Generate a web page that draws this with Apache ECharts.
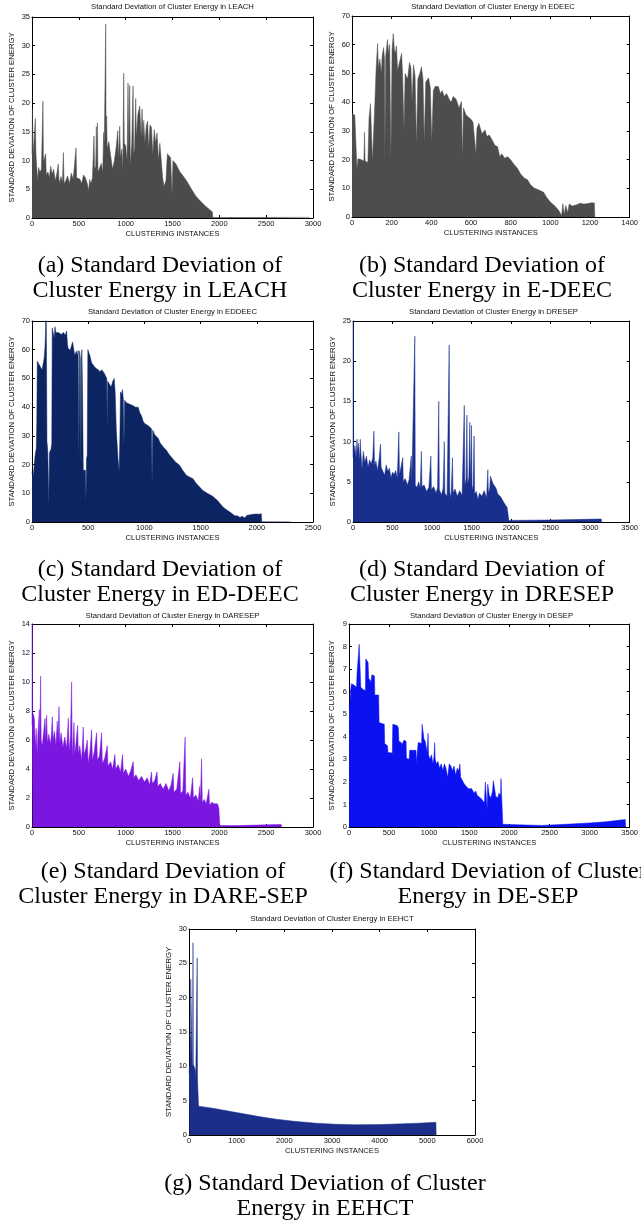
<!DOCTYPE html>
<html>
<head>
<meta charset="utf-8">
<script src="https://cdn.jsdelivr.net/npm/echarts@6/dist/echarts.min.js"></script>
<style>
html, body { margin: 0; padding: 0; background: #fff; }
#chart { width: 641px; height: 1221px; }
</style>
</head>
<body>
<div id="chart"></div>
<script>
// [clustering instance, std deviation]
var leach = [[0,11],[5,19],[12,11],[30,11.2],[36,17.3],[42,11.2],[50,9],[60,6.5],[70,8.8],[85,8],[100,8.5],[112,8.2],[117,20.3],[122,9.8],[140,9.6],[146,11.2],[152,7.5],[170,8],[185,7],[200,9],[215,7.6],[230,8.5],[250,6.5],[265,7.7],[280,9.4],[290,6],[310,7.2],[325,6.2],[335,11.4],[342,6],[360,6.5],[380,7.3],[400,6],[420,7.8],[440,6.8],[460,6.6],[470,12.2],[476,7],[490,7.2],[510,6.8],[530,6],[550,7.5],[570,7],[590,6],[605,4.8],[615,6.7],[630,6],[645,7],[662,14.3],[668,8.5],[680,9],[687,15.9],[693,9],[698,16.6],[704,8],[720,8.3],[740,9.5],[755,8],[765,14.9],[772,13],[787,33.8],[791,13.5],[797,17.8],[803,12],[820,13.3],[840,10.8],[860,8.5],[880,10],[900,12.5],[915,15.2],[925,10],[936,16],[945,10.5],[960,12],[970,8],[979,25.2],[985,13],[1000,12.6],[1015,10],[1025,23.5],[1033,12],[1043,23.1],[1050,9],[1065,13],[1079,23],[1085,11],[1095,12],[1107,20.8],[1115,14],[1130,18],[1150,19.5],[1165,14],[1175,19],[1185,14],[1193,17],[1205,13],[1220,16],[1235,16.9],[1245,12],[1260,16.2],[1275,15.8],[1290,11],[1305,15.4],[1320,13],[1335,14.8],[1350,10],[1365,13],[1380,12.8],[1395,7],[1410,5.5],[1430,6.5],[1445,11.2],[1465,11],[1480,10.5],[1495,4],[1505,10],[1520,10.2],[1540,9.3],[1560,8.6],[1580,8],[1600,7.6],[1650,6.5],[1700,5.1],[1750,3.8],[1800,2.9],[1850,2.1],[1900,1.4],[1925,1.1],[1930,0.1],[2000,0.08],[2500,0.1],[2960,0.12],[2965,0]];

var edeec = [[0,36],[8,36],[14,35.5],[20,35.8],[25,16.4],[30,20.3],[45,20],[60,19.5],[63,29.5],[66,19.5],[80,19],[86,34.4],[90,34.5],[93,39.5],[100,39],[103,19.5],[110,20],[114,37.3],[118,37],[121,50.6],[126,50],[129,60.4],[133,52],[140,55],[148,50],[152,56],[159,59],[164,55],[166,20],[170,56],[179,61.8],[184,57],[190,60],[196,19.5],[202,58],[208,63.9],[214,58],[218,57],[224,59.6],[230,51],[240,50.5],[250,57],[255,50],[262,30],[268,50],[280,48],[290,53.8],[297,52],[303,40],[310,53],[318,49],[325,25],[332,48],[342,50],[350,52.3],[358,48],[364,26],[372,47],[386,48.5],[395,45],[402,26],[410,44],[420,45.5],[436,45.4],[445,43],[455,44],[465,42],[477,43],[490,41],[500,40],[510,42],[525,41],[540,38],[552,40.2],[557,20],[562,38],[575,35.5],[585,35.5],[600,34],[610,33],[618,33.2],[625,22],[630,31],[640,32.6],[655,29],[671,30.3],[680,28],[692,28.6],[705,27],[720,25],[734,24.5],[745,21],[755,22],[770,20.5],[785,21],[800,19.9],[815,18.5],[834,17],[850,15],[870,13.5],[885,13],[900,11.2],[920,10],[940,9.5],[966,8.6],[980,7],[1000,5.2],[1020,4],[1040,2.5],[1057,0.5],[1063,4.6],[1070,1],[1078,4],[1088,1.5],[1095,4.5],[1110,3.8],[1130,4.2],[1150,4.8],[1170,4.5],[1190,4.7],[1210,5],[1222,4.9],[1224,0]];

var eddeec = [[0,17.4],[8,15.5],[15,17.5],[22,21],[30,24],[38,25.5],[42,33],[47,56],[60,55.5],[75,54],[90,53],[100,52.5],[108,57],[115,60.4],[120,65.6],[124,75],[128,66],[133,28],[140,25],[150,6],[155,24],[170,25.5],[176,27.3],[180,67.6],[190,67.9],[198,64],[204,68],[212,66],[225,65.5],[240,65.9],[260,65.3],[280,66],[295,65],[308,66.5],[315,62],[322,60.4],[340,59.8],[355,59.2],[361,62.7],[368,61],[380,58],[395,59.5],[405,58],[411,59.8],[417,22],[423,59.5],[430,57],[435,20],[440,58],[444,60],[450,45],[456,18],[465,17.5],[475,18],[480,6.6],[485,22],[491,23.2],[497,60],[505,59],[515,58],[530,55.5],[545,55],[553,54.2],[570,53.5],[590,53],[604,52.3],[620,53],[640,52],[657,52.6],[665,50],[669,32],[673,49],[690,48.5],[705,47],[718,49],[731,50],[740,45],[750,32],[765,22],[775,17.4],[782,30],[787,45.3],[795,44.5],[805,46.1],[812,43],[818,26],[824,42.4],[840,41.5],[855,41],[870,41],[885,40.5],[900,40.5],[920,40],[944,40],[960,38],[974,37],[990,35],[1005,34.2],[1018,33.9],[1035,33.5],[1050,33],[1063,32.5],[1068,13],[1074,32],[1090,30.5],[1107,30.8],[1125,29],[1140,27.5],[1151,27],[1170,26],[1196,25],[1220,23.5],[1240,22.6],[1270,21.2],[1290,20.5],[1314,19.7],[1340,18],[1373,16.3],[1400,15.7],[1432,15.1],[1460,13.5],[1491,12.2],[1520,11],[1560,10],[1610,8.9],[1650,7.5],[1699,5.2],[1740,4],[1770,3.2],[1803,2.2],[1830,2.1],[1850,1.6],[1870,2],[1892,1.4],[1910,2.3],[1940,2.5],[1966,2.7],[2000,2.8],[2020,2.7],[2040,2.9],[2044,0.05],[2300,0.05],[2302,0]];

var dresep = [[0,8],[3,25],[6,11.8],[10,8.5],[25,9.5],[40,8],[50,10.3],[58,8.7],[70,9.8],[85,7.5],[92,10.3],[100,8.6],[115,6.5],[130,8.8],[150,7.4],[170,8.2],[190,6.8],[210,7.7],[230,7.2],[250,8],[265,11.3],[272,7],[290,7.6],[310,6.4],[330,7.8],[348,9.7],[356,6.8],[380,7],[400,5.8],[420,7.1],[440,6.3],[460,6.7],[480,5.5],[500,6.2],[520,5.9],[540,6.4],[560,5.4],[580,11.2],[588,5.8],[610,5.6],[629,8],[636,5],[660,5.4],[690,4.6],[710,5.3],[737,8.2],[744,4.8],[765,5],[782,23.1],[788,4.6],[810,4.3],[830,5],[850,4.2],[865,8.8],[872,4.4],[900,4.6],[930,3.8],[960,4.3],[985,8.2],[992,4],[1020,4.4],[1050,3.6],[1070,4.3],[1085,15],[1092,4],[1120,3.4],[1140,4.2],[1155,10],[1162,3.6],[1190,3.2],[1217,22],[1224,3.8],[1240,3],[1258,8],[1265,3.6],[1290,4.1],[1320,3.2],[1350,3.9],[1380,3.3],[1408,14.5],[1415,4.5],[1430,5.4],[1441,13.3],[1448,4.8],[1465,5.5],[1478,12.4],[1485,4.5],[1499,12],[1506,4],[1520,4.6],[1532,10.7],[1539,3.5],[1560,3.8],[1580,2.8],[1600,3.6],[1630,3.2],[1660,3.9],[1690,3],[1706,6.5],[1713,3.6],[1730,4.2],[1739,5.7],[1750,5.5],[1770,4.8],[1790,4.6],[1810,4.2],[1830,3.5],[1850,3.7],[1870,3.1],[1890,3],[1910,2.4],[1930,2.2],[1950,1.8],[1965,1.6],[1972,0.2],[2200,0.22],[2500,0.25],[2800,0.3],[3100,0.36],[3140,0.37],[3145,0]];

var daresep = [[0,7],[3,14],[7,7.2],[15,7.8],[25,7.5],[35,5.5],[45,6.8],[55,5],[65,6.6],[78,8.1],[84,5.8],[92,10.4],[98,6],[110,5.6],[125,6.6],[139,7.5],[148,6],[156,7.7],[165,5.8],[180,6.4],[195,5.7],[205,6.2],[217,7.6],[225,6],[240,6.6],[255,5.6],[270,7.3],[280,6.2],[288,8.3],[296,5.8],[310,6.5],[330,5.5],[350,6.2],[370,5.4],[388,7.5],[396,5.2],[410,6.2],[423,10],[430,4.8],[448,7.2],[456,5],[470,5.8],[487,7],[495,5],[510,5.6],[530,4.6],[547,6.9],[555,5],[575,5.4],[590,6],[600,4.4],[620,5.3],[636,6.7],[645,4.6],[665,5.2],[690,6.5],[698,4.6],[720,4.9],[743,6.5],[751,4.4],[775,4.7],[803,5.6],[811,4.2],[840,4.5],[860,4],[885,5],[893,4],[920,4.3],[945,3.8],[967,5],[975,3.7],[1000,4],[1030,3.5],[1055,3.9],[1080,4.5],[1088,3.4],[1110,3.6],[1140,3.2],[1170,3.5],[1200,3.1],[1230,3.4],[1255,2.9],[1276,3.8],[1284,3],[1310,3.2],[1335,3.8],[1343,2.8],[1370,3],[1400,2.6],[1430,3],[1460,2.5],[1485,2.9],[1507,3.7],[1515,2.4],[1545,2.6],[1578,4.5],[1586,2.3],[1610,2.5],[1635,6.2],[1642,2.2],[1665,2.4],[1690,2],[1715,3.4],[1723,2],[1750,2.2],[1775,1.8],[1790,2.8],[1798,1.8],[1810,4.7],[1818,1.7],[1840,1.9],[1860,1.6],[1888,2.6],[1896,1.5],[1920,1.7],[1945,1.6],[1960,1.7],[1980,1.6],[1995,1.3],[2005,0.1],[2200,0.1],[2400,0.13],[2660,0.18],[2665,0]];

var desep = [[0,5.3],[10,5.4],[18,6],[30,6.35],[60,6.3],[94,6.2],[100,6.8],[123,6.8],[127,8.1],[143,8.05],[147,6.2],[175,6.1],[205,6.05],[209,7.45],[232,7.4],[238,7.3],[245,6.6],[265,6.5],[272,6.4],[285,6.75],[318,6.7],[322,5.85],[370,5.85],[375,4.63],[440,4.55],[445,3.7],[480,3.6],[486,3.3],[540,3.28],[546,4.55],[600,4.5],[615,4.4],[622,3.8],[650,3.75],[660,3.65],[685,3.85],[712,3.8],[716,3.05],[750,3.0],[756,3.4],[836,3.4],[840,2.82],[858,2.8],[863,3.75],[905,3.7],[912,4.55],[930,4.5],[935,3.9],[950,3.8],[960,3.6],[975,3.3],[986,4.15],[992,3.2],[1010,3],[1030,3.2],[1045,2.8],[1060,3.1],[1068,3.74],[1075,3],[1090,2.8],[1110,2.9],[1130,2.6],[1150,2.8],[1170,2.5],[1190,2.8],[1210,2.6],[1230,2.2],[1250,2.8],[1270,2.7],[1290,2.5],[1310,2.7],[1330,2.3],[1350,2.6],[1370,2.5],[1383,2.8],[1392,2.2],[1410,2.1],[1430,1.95],[1450,1.85],[1470,1.9],[1490,1.7],[1510,1.65],[1530,1.7],[1560,1.5],[1580,1.6],[1600,1.4],[1620,1.45],[1648,1.26],[1670,1.2],[1689,1.07],[1700,2],[1715,1.95],[1722,0.8],[1730,1.9],[1750,1.4],[1770,1.3],[1790,1.6],[1800,2.05],[1820,2],[1830,1.35],[1855,1.3],[1870,1.5],[1890,1.4],[1895,2.15],[1914,2.1],[1918,0.12],[2100,0.1],[2400,0.07],[2700,0.12],[3000,0.18],[3200,0.23],[3445,0.33],[3450,0]];

var eehct = [[0,9],[10,10],[22,9.5],[28,14.3],[32,9.8],[36,22.7],[60,22.7],[66,10.5],[76,10],[84,28],[90,10.3],[110,10.2],[130,9.5],[140,8],[165,8],[172,25.8],[178,8.3],[195,8.2],[200,4.2],[500,3.9],[1000,3.26],[1500,2.65],[1834,2.3],[2200,2],[2674,1.72],[3100,1.55],[3514,1.5],[4000,1.52],[4354,1.6],[4800,1.72],[5180,1.85],[5185,0]];

var plotTitles = ['LEACH', 'EDEEC', 'EDDEEC', 'DRESEP', 'DARESEP', 'DESEP', 'EEHCT'];
var xMaxes = [3000, 1400, 2500, 3500, 3000, 3500, 6000];
var xSteps = [500, 200, 500, 500, 500, 500, 1000];
var yMaxes = [35, 70, 70, 25, 14, 9, 30];
var ySteps = [5, 10, 10, 5, 2, 1, 5];

var captions = [
  ['(a) Standard Deviation of', 'Cluster Energy in LEACH'],
  ['(b) Standard Deviation of', 'Cluster Energy in E-DEEC'],
  ['(c) Standard Deviation of', 'Cluster Energy in ED-DEEC'],
  ['(d) Standard Deviation of', 'Cluster Energy in DRESEP'],
  ['(e) Standard Deviation of', 'Cluster Energy in DARE-SEP'],
  ['(f) Standard Deviation of Cluster', 'Energy in DE-SEP'],
  ['(g) Standard Deviation of Cluster', 'Energy in EEHCT']
];

var seriesData = [leach, edeec, eddeec, dresep, daresep, desep, eehct];
var colors = ['#4b4b4b', '#4d4d4d', '#0d2462', '#192f8e', '#7a16e0', '#0a12f2', '#1b2f8a'];

// layout of each axes box: left, top, width, height, y-name gap, title y, caption x, caption y
var boxes = [
  [32, 17, 281, 201, 16, 7, 160, 266],
  [352, 16, 282, 201, 16, 7, 482, 266],
  [32, 321, 281, 201, 16, 312, 160, 570],
  [353, 321, 281, 201, 16, 312, 482, 570],
  [32, 624, 281, 203, 16, 616, 163, 872],
  [349, 624, 285, 203, 13, 616, 488, 872],
  [189, 929, 286, 206, 16, 919, 325, 1184]
];

var sans = '"Liberation Sans", Arial, sans-serif';
var serif = '"Liberation Serif", "Times New Roman", serif';

var grids = [], xAxes = [], yAxes = [], series = [], graphics = [];

function axisCommon(gi, max, step) {
  return {
    gridIndex: gi,
    type: 'value',
    min: 0,
    max: max,
    interval: step,
    axisLine: { show: true, onZero: false, lineStyle: { color: '#000', width: 1 } },
    axisTick: { show: true, inside: true, length: 3, lineStyle: { color: '#000', width: 1 } },
    axisLabel: {
      show: true, fontSize: 7.5, color: '#111', margin: 2, fontFamily: sans,
      formatter: function (v) { return String(v); }
    },
    splitLine: { show: false }
  };
}

for (var i = 0; i < 7; i++) {
  var b = boxes[i];
  grids.push({ left: b[0], top: b[1], width: b[2], height: b[3], containLabel: false });

  var xb = axisCommon(i, xMaxes[i], xSteps[i]);
  xb.position = 'bottom';
  xb.name = 'CLUSTERING INSTANCES';
  xb.nameLocation = 'middle';
  xb.nameGap = 11.5;
  xb.nameTextStyle = { fontSize: 7.6, color: '#111', fontFamily: sans };
  var xt = axisCommon(i, xMaxes[i], xSteps[i]);
  xt.position = 'top';
  xt.axisLabel.show = false;
  xAxes.push(xb, xt);

  var yl = axisCommon(i, yMaxes[i], ySteps[i]);
  yl.position = 'left';
  yl.name = 'STANDARD DEVIATION OF CLUSTER ENERGY';
  yl.nameLocation = 'middle';
  yl.nameGap = b[4];
  yl.nameTextStyle = { fontSize: 7.7, color: '#111', fontFamily: sans };
  var yr = axisCommon(i, yMaxes[i], ySteps[i]);
  yr.position = 'right';
  yr.axisLabel.show = false;
  yAxes.push(yl, yr);

  series.push({
    type: 'line',
    xAxisIndex: 2 * i,
    yAxisIndex: 2 * i,
    data: seriesData[i],
    symbol: 'none',
    clip: true,
    silent: true,
    lineStyle: { width: 0.5, color: colors[i] },
    itemStyle: { color: colors[i] },
    areaStyle: { color: colors[i], opacity: 1 }
  });

  graphics.push({
    type: 'text',
    style: {
      text: 'Standard Deviation of Cluster Energy in ' + plotTitles[i],
      x: b[0] + b[2] / 2, y: b[5],
      textAlign: 'center', textVerticalAlign: 'middle',
      font: '7.7px ' + sans, fill: '#111'
    }
  });
  graphics.push({
    type: 'text',
    style: {
      text: captions[i][0],
      x: b[6], y: b[7],
      textAlign: 'center', textVerticalAlign: 'middle',
      font: '24px ' + serif, fill: '#000'
    }
  });
  graphics.push({
    type: 'text',
    style: {
      text: captions[i][1],
      x: b[6], y: b[7] + 24.5,
      textAlign: 'center', textVerticalAlign: 'middle',
      font: '24px ' + serif, fill: '#000'
    }
  });
}

var chart = echarts.init(document.getElementById('chart'), null, { renderer: 'canvas' });
chart.setOption({
  animation: false,
  backgroundColor: '#fff',
  grid: grids,
  xAxis: xAxes,
  yAxis: yAxes,
  series: series,
  graphic: graphics
});
</script>
</body>
</html>
